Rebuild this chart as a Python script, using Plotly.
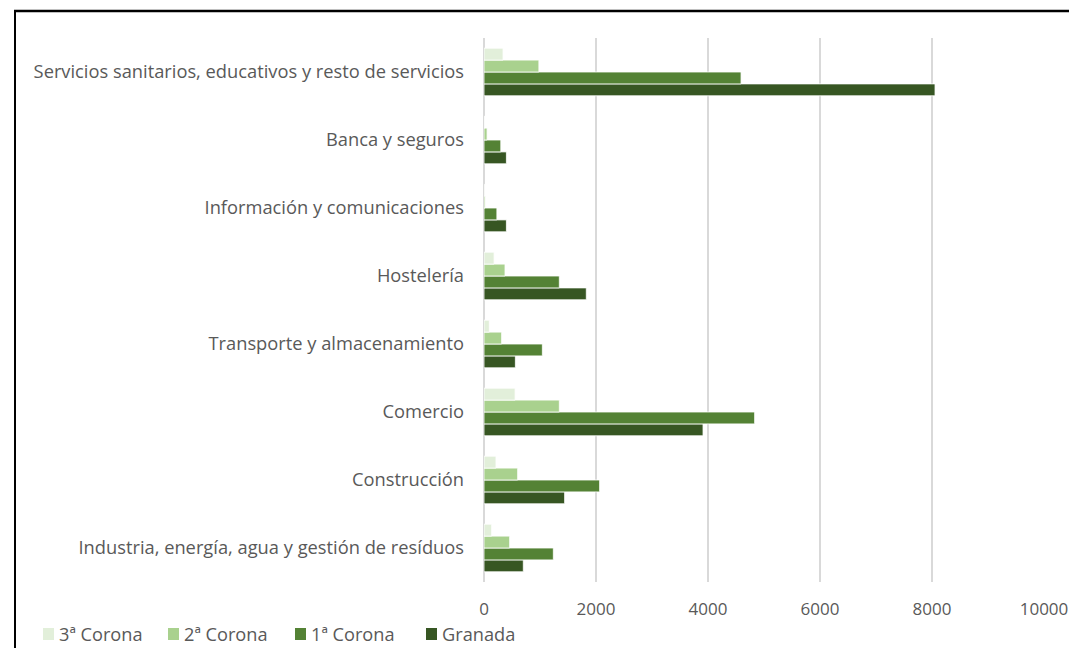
import plotly.graph_objects as go

categories = [
    "Industria, energía, agua y gestión de resíduos",
    "Construcción",
    "Comercio",
    "Transporte y almacenamiento",
    "Hostelería",
    "Información y comunicaciones",
    "Banca y seguros",
    "Servicios sanitarios, educativos y resto de servicios",
]
corona3 = [137, 214, 555, 95, 180, 5, 10, 340]
corona2 = [458, 601, 1345, 315, 375, 20, 55, 980]
corona1 = [1238, 2065, 4833, 1042, 1345, 230, 300, 4590]
granada = [702, 1440, 3911, 560, 1827, 400, 400, 8054]
x_ticks = [0, 2000, 4000, 6000, 8000, 10000]

series = [
    ("Granada", granada, "#375623"),
    ("1ª Corona", corona1, "#548235"),
    ("2ª Corona", corona2, "#a9d18e"),
    ("3ª Corona", corona3, "#e2efda"),
]

fig = go.Figure()
for name, vals, col in series:
    fig.add_trace(go.Bar(
        y=categories, x=vals, name=name, orientation="h",
        marker=dict(color=col, line=dict(color="rgba(255,255,255,0.8)", width=1)),
    ))

# page is offset by 8px body margin
OFF = 8
L, R, T, B = 476, 41, 30, 74
W, H = 1077, 648
pw, ph = W - L - R, H - T - B

def px(x):
    return (x - OFF - L) / pw

def py(y):
    return (H - B - (y - OFF)) / ph

FONT = "Open Sans"
GREY = "#595959"

# legend (drawn as swatches + text, in reversed trace order)
legend_swatch_x = [43, 168, 295, 426]
legend_y = 634
shapes = [
    dict(type="line", xref="paper", yref="paper", x0=px(14), x1=px(W + 20),
         y0=py(11), y1=py(11), line=dict(color="black", width=2.5)),
    dict(type="line", xref="paper", yref="paper", x0=px(15), x1=px(15),
         y0=py(11), y1=py(H + 20), line=dict(color="black", width=2)),
]
annotations = []
for (name, _, col), sx in zip(series[::-1], legend_swatch_x):
    shapes.append(dict(type="rect", xref="paper", yref="paper",
                       x0=px(sx), x1=px(sx + 11), y0=py(legend_y - 6), y1=py(legend_y + 6),
                       fillcolor=col, line=dict(width=0)))
    annotations.append(dict(text=name, xref="paper", yref="paper",
                            x=px(sx + 14), y=py(legend_y), xanchor="left", yanchor="middle",
                            showarrow=False, font=dict(family=FONT, size=18.2, color=GREY)))

fig.update_layout(
    width=W, height=H,
    margin=dict(l=L, r=R, t=T, b=B),
    barmode="group", bargap=0.3, bargroupgap=0,
    paper_bgcolor="white", plot_bgcolor="white",
    font=dict(family=FONT, size=17, color=GREY),
    showlegend=False,
    xaxis=dict(range=[0, 10000], tickvals=x_ticks, tickformat="d", showgrid=True,
               gridcolor="#d9d9d9", gridwidth=2, zeroline=True,
               zerolinecolor="#d9d9d9", zerolinewidth=2, showline=False,
               ticklabelstandoff=15, tickfont=dict(family=FONT, size=17, color=GREY)),
    yaxis=dict(type="category", categoryorder="array", categoryarray=categories,
               showgrid=False, showline=False, ticklabelstandoff=19,
               tickfont=dict(family=FONT, size=18.3, color=GREY)),
    shapes=shapes,
    annotations=annotations,
)

fig.write_html("out.html")
